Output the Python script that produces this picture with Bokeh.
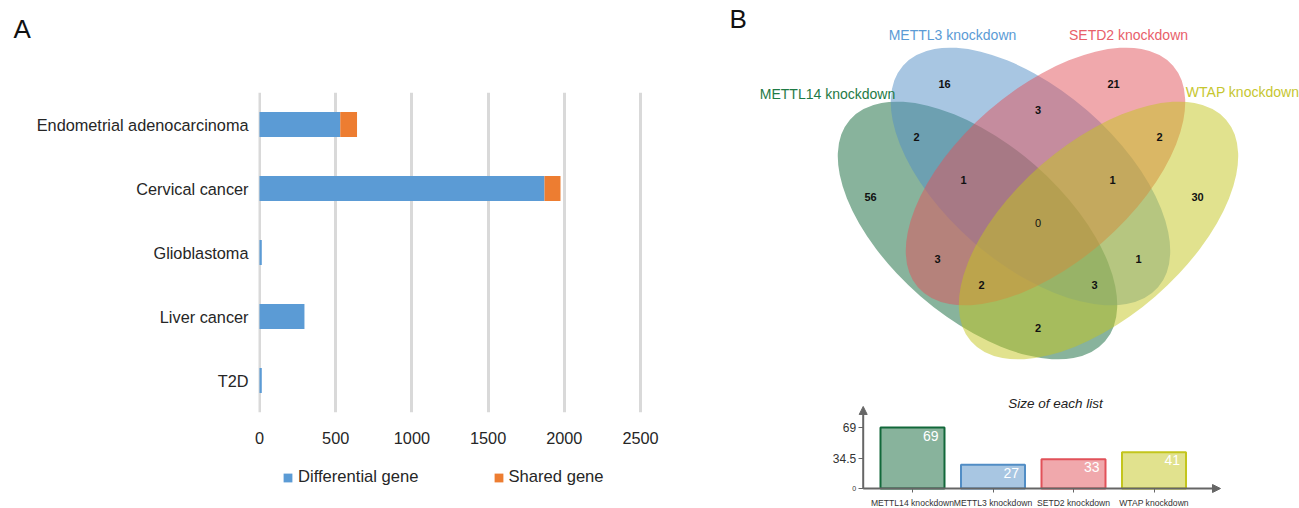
from bokeh.plotting import figure
from bokeh.models import (ColumnDataSource, FactorRange, Range1d, Legend, LegendItem,
                          Label, Arrow, NormalHead, FixedTicker, LinearAxis, Title)
from bokeh.layouts import row, column
from bokeh.embed import file_html
from bokeh.resources import INLINE
from bokeh.core.properties import value

# ---------------- data ----------------
diseases = ["Endometrial adenocarcinoma", "Cervical cancer", "Glioblastoma", "Liver cancer", "T2D"]
differential_gene = [530, 1870, 15, 295, 15]
shared_gene = [110, 105, 0, 0, 0]
series_names = ["Differential gene", "Shared gene"]
x_ticks = [0, 500, 1000, 1500, 2000, 2500]

set_names = ["METTL14 knockdown", "METTL3 knockdown", "SETD2 knockdown", "WTAP knockdown"]
set_sizes = [69, 27, 33, 41]
size_ticks = [0, 34.5, 69]

# Venn regions: membership flags (METTL14, METTL3, SETD2, WTAP) and counts
region_members = ["1000", "0100", "0010", "0001", "1100", "0110", "0011", "1110",
                  "0111", "1111", "1010", "1011", "1101", "0101", "1001"]
region_counts = [56, 16, 21, 30, 2, 3, 2, 1, 1, 0, 3, 2, 3, 1, 2]

# ---------------- styles / layout ----------------
FNAME = "Liberation Sans"
FONT = value(FNAME)
BLUE, ORANGE = "#5b9bd5", "#ed7d31"
set_fill = ["#12683a", "#518dc5", "#e15159", "#c3c51d"]
set_text = ["#1e7a45", "#5b9bd5", "#e8606a", "#c6c630"]
AXC = "#666666"

# Venn geometry (layout units = pixels, y up, origin at the centre region)
ell_x = [-60.5, -7.5, 7.5, 60.5]
ell_y = [-8, 46, 46, -8]
ell_angle = [-41, -41, 41, 41]
ELL_W, ELL_H = 338, 174
set_label_x = [-210.5, -85.5, 90.5, 204.5]
set_label_y = [129, 188, 188, 131]
region_pos = {
    "1000": (-167.5, 26), "0100": (-93.5, 139), "0010": (75.5, 139), "0001": (159.5, 26),
    "1100": (-121.5, 86), "0110": (0, 113), "0011": (121.5, 86), "1110": (-74.5, 43),
    "0111": (74.5, 43), "1111": (0, 0), "1010": (-100.5, -36), "1011": (-56.5, -62),
    "1101": (56.5, -62), "0101": (100.5, -36), "1001": (0, -105),
}

# ---------------- panel A ----------------
pa = figure(width=710, height=450, y_range=FactorRange(factors=diseases[::-1]),
            x_range=Range1d(-6.5, 2513), min_border_left=258, min_border_right=68,
            min_border_top=92, min_border_bottom=38, output_backend="svg",
            toolbar_location=None, title=None)
src = ColumnDataSource(dict(disease=diseases, diff=differential_gene, shared=shared_gene))
rs = pa.hbar_stack(["diff", "shared"], y="disease", height=0.39,
                   fill_color=[BLUE, ORANGE], line_color=None, source=src)
pa.outline_line_color = None
pa.ygrid.grid_line_color = None
pa.xaxis.ticker = FixedTicker(ticks=x_ticks)
pa.xgrid.grid_line_color = "#d9d9d9"
pa.xgrid.grid_line_width = 3
for ax in (pa.xaxis[0], pa.yaxis[0]):
    ax.axis_line_color = None
    ax.major_tick_line_color = None
    ax.minor_tick_line_color = None
    ax.major_label_text_font = FNAME
    ax.major_label_text_font_size = "16.3px"
    ax.major_label_text_color = "#262626"
pa.yaxis.major_label_standoff = 4
pa.xaxis.major_label_standoff = 13
# spacer title next to the frame, then the panel letter above it
pa.add_layout(Title(text=" ", text_font_size="1px", standoff=34), "above")
pa.add_layout(Title(text="A", align="left", offset=-245, standoff=20, vertical_align="top",
                    text_font=FNAME, text_font_size="26px", text_font_style="normal",
                    text_color="#111111"), "above")

# legend strip under panel A (zero-size stand-in glyphs carry the legend swatches)
lg = figure(width=710, height=58, min_border_left=258, min_border_right=68,
            min_border_top=0, min_border_bottom=0, x_axis_type=None, y_axis_type=None,
            output_backend="svg", toolbar_location=None)
lg.grid.visible = False
lg.outline_line_color = None
stub = ColumnDataSource(dict(y=[0], right=[0]))
lr1 = lg.hbar(y="y", right="right", height=0, fill_color=BLUE, line_color=None, source=stub)
lr2 = lg.hbar(y="y", right="right", height=0, fill_color=ORANGE, line_color=None, source=stub)
legend = Legend(items=[LegendItem(label=series_names[0], renderers=[lr1]),
                       LegendItem(label=series_names[1], renderers=[lr2])],
                orientation="horizontal", location=(24, 21), spacing=74,
                glyph_width=11, glyph_height=11, label_standoff=5,
                label_text_font=FNAME, label_text_font_size="16.6px",
                label_text_color="#262626", border_line_color=None,
                background_fill_alpha=0, margin=0, padding=0)
lg.add_layout(legend, "center")

# ---------------- panel B (venn + size of each list) ----------------
SX0, SX1 = -2.00932, 5.30745      # x range of the small bar chart
SY0, SY1 = -22.624, 552.036       # y range of the small bar chart
YAX = -0.1124                     # x position of its y axis
rf = figure(width=589, height=508, x_range=Range1d(-327.5, 261.5),
            y_range=Range1d(-286, 222), x_axis_type=None, y_axis_type=None,
            min_border=0, output_backend="svg", toolbar_location=None)
rf.extra_x_ranges = {"sx": Range1d(SX0, SX1)}
rf.extra_y_ranges = {"sy": Range1d(SY0, SY1)}
rf.grid.visible = False
rf.outline_line_color = None

rf.ellipse(x=ell_x, y=ell_y, width=ELL_W, height=ELL_H, angle=ell_angle,
           angle_units="deg", fill_color=set_fill, fill_alpha=0.5, line_color=None)
rf.text(x=set_label_x, y=set_label_y, text=set_names, text_color=set_text,
        text_align="center", text_baseline="middle", text_font=FONT,
        text_font_size="14px")
rsrc = ColumnDataSource(dict(
    x=[region_pos[m][0] for m in region_members],
    y=[region_pos[m][1] for m in region_members],
    t=[str(c) for c in region_counts],
    s=["normal" if m == "1111" else "bold" for m in region_members]))
rf.text(x="x", y="y", text="t", text_font_style="s", source=rsrc,
        text_align="center", text_baseline="middle", text_font=FONT,
        text_font_size="11px", text_color="#111111")
rf.add_layout(Label(x=19, y=475, x_units="screen", y_units="screen", text="B",
                    text_font=FNAME, text_font_size="26px", text_color="#111111"))

pos = [i + 0.5 for i in range(len(set_names))]
BW = 0.795
rf.vbar(x=pos, top=set_sizes, width=BW, fill_color=set_fill, fill_alpha=0.5,
        line_color=set_fill, line_width=2, x_range_name="sx", y_range_name="sy")
rf.text(x=[p + BW / 2 for p in pos], y=set_sizes, text=[str(s) for s in set_sizes],
        x_offset=-6, y_offset=3, text_align="right", text_baseline="top",
        text_color="white", text_font=FONT, text_font_size="14px",
        x_range_name="sx", y_range_name="sy")

sxa = LinearAxis(x_range_name="sx", y_range_name="sy", fixed_location=0,
                 ticker=FixedTicker(ticks=pos),
                 major_label_overrides={p: n for p, n in zip(pos, set_names)})
sya = LinearAxis(x_range_name="sx", y_range_name="sy", fixed_location=YAX,
                 ticker=FixedTicker(ticks=size_ticks), major_label_overrides={0: ""})
for ax in (sxa, sya):
    ax.axis_line_color = None
    ax.minor_tick_line_color = None
    ax.major_tick_in = 0
    ax.major_tick_line_color = AXC
    ax.major_label_text_font = FNAME
    ax.major_label_text_color = "#333333"
sxa.major_tick_out = 4
sxa.major_label_standoff = 5
sxa.major_label_text_font_size = "8.6px"
sya.major_tick_out = 5
sya.major_label_standoff = 2
sya.major_label_text_font_size = "12px"
rf.add_layout(sxa, "below")
rf.add_layout(sya, "left")

head = dict(size=8, fill_color=AXC, line_color=AXC)
rf.add_layout(Arrow(end=NormalHead(**head), x_start=YAX, y_start=0, x_end=4.326, y_end=0,
                    line_color=AXC, line_width=2, x_range_name="sx", y_range_name="sy"))
rf.add_layout(Arrow(end=NormalHead(**head), x_start=YAX, y_start=0, x_end=YAX, y_end=92.8,
                    line_color=AXC, line_width=2, x_range_name="sx", y_range_name="sy"))
rf.add_layout(Label(x=YAX, y=0, x_offset=-7, text="0", text_align="right",
                    text_baseline="middle", text_font=FNAME, text_font_size="7px",
                    text_color="#333333", x_range_name="sx", y_range_name="sy"))
rf.add_layout(Label(x=2.276, y=96.2, text="Size of each list", text_align="center",
                    text_baseline="middle", text_font=FNAME, text_font_size="13.5px",
                    text_font_style="italic", text_color="#222222",
                    x_range_name="sx", y_range_name="sy"))

layout = row(column(pa, lg), rf)
open("out.html", "w").write(file_html(layout, INLINE))
